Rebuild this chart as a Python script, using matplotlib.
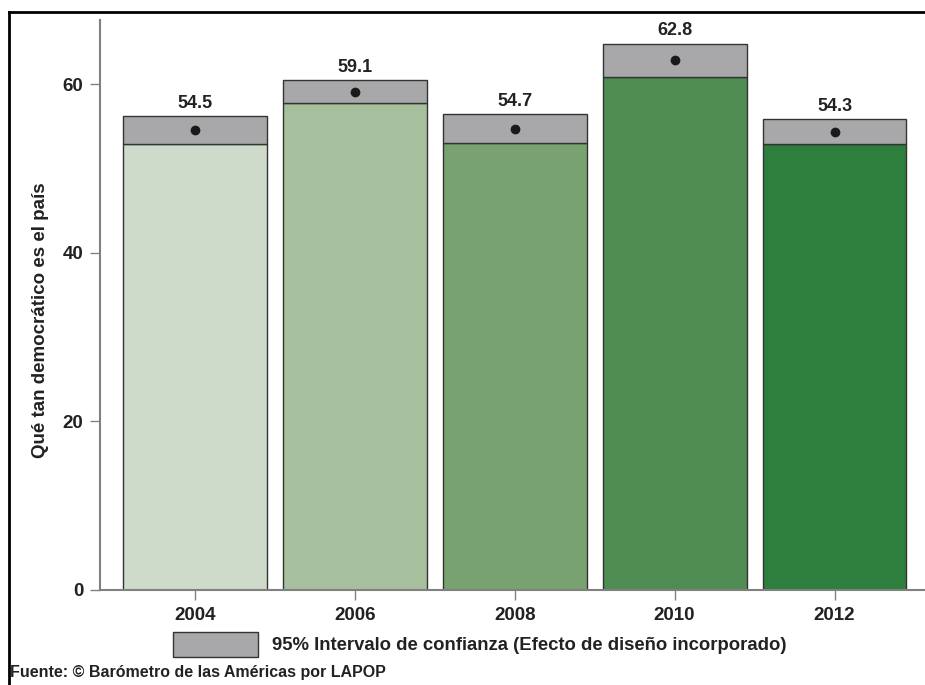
import numpy as np
import matplotlib.pyplot as plt
from matplotlib.patches import Rectangle
from matplotlib.lines import Line2D

# datos
anios = ['2004', '2006', '2008', '2010', '2012']
media = [54.5, 59.1, 54.7, 62.8, 54.3]
ic_inf = [52.9, 57.7, 53.0, 60.8, 52.9]
ic_sup = [56.2, 60.5, 56.4, 64.8, 55.8]
colores = ['#cfdbca', '#a6bf9c', '#78a371', '#4f8c51', '#2e7e3e']

plt.rcParams['font.family'] = ['Liberation Sans', 'DejaVu Sans']

fig = plt.figure(figsize=(9.25, 6.85), dpi=100)
ax = fig.add_axes([100/925, 95/685, 825/925, 570/685])

x = np.arange(len(anios))
ancho = 0.9
ax.bar(x, ic_inf, width=ancho, color=colores, edgecolor='#333333', linewidth=1)
ax.bar(x, np.array(ic_sup) - np.array(ic_inf), bottom=ic_inf, width=ancho,
       color='#a8a8aa', edgecolor='#333333', linewidth=1)
ax.plot(x, media, 'o', color='#1a1a1a', markersize=6, zorder=5)

for xi, m, s in zip(x, media, ic_sup):
    ax.annotate('%.1f' % m, (xi, s), xytext=(0, 3), textcoords='offset points',
                ha='center', va='bottom', fontsize=13, fontweight='bold', color='#222222')

ax.set_xlim(-0.594, 4.566)
ax.set_ylim(0, 67.6)
ax.set_xticks(x)
ax.set_xticklabels(anios)
ax.set_yticks([0, 20, 40, 60])
for lab in ax.get_xticklabels() + ax.get_yticklabels():
    lab.set_fontweight('bold')
    lab.set_fontsize(13.5)
    lab.set_color('#222222')
ax.tick_params(axis='both', direction='out', length=7, width=1, color='#808080', pad=5)
ax.spines['top'].set_visible(False)
ax.spines['right'].set_visible(False)
ax.spines['left'].set_color('#808080')
ax.spines['bottom'].set_color('#808080')
ax.spines['left'].set_linewidth(1.5)
ax.spines['bottom'].set_linewidth(1.5)
ax.set_ylabel('Qué tan democrático es el país', fontsize=13.5, fontweight='bold',
              color='#222222')
ax.yaxis.set_label_coords(-0.062, 0.474)

# leyenda manual
fig.patches.append(Rectangle((173/925, (685-657)/685), 85/925, 25/685,
                             transform=fig.transFigure, facecolor='#a8a8aa',
                             edgecolor='#333333', linewidth=1))
fig.text(272/925, (685-645)/685, '95% Intervalo de confianza (Efecto de diseño incorporado)',
         fontsize=13.3, fontweight='bold', va='center', color='#222222')
fig.text(10/925, (685-672)/685, 'Fuente: © Barómetro de las Américas por LAPOP',
         fontsize=11.5, fontweight='bold', va='center', color='#222222')

# marco exterior
fig.lines.append(Line2D([9/925, 9/925], [0, (685-12)/685], transform=fig.transFigure,
                        color='black', linewidth=2))
fig.lines.append(Line2D([9/925, 1], [(685-12)/685, (685-12)/685], transform=fig.transFigure,
                        color='black', linewidth=2))

fig.savefig('out.png', dpi=100)
